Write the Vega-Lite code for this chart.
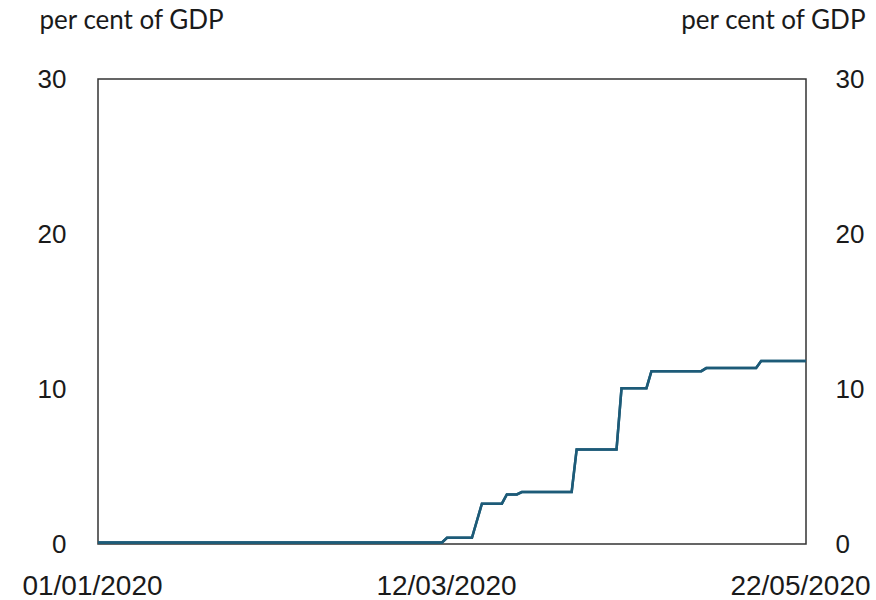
{
  "$schema": "https://vega.github.io/schema/vega-lite/v6.json",
  "width": 708,
  "height": 465,
  "autosize": {"type": "none"},
  "padding": {"left": 98, "top": 79, "right": 70, "bottom": 56},
  "background": "white",
  "config": {
    "view": {"stroke": "#333333", "strokeWidth": 1.5},
    "axis": {"grid": false, "ticks": false, "domain": false, "labelColor": "#1a1a1a", "labelFont": "Liberation Sans"}
  },
  "data": {
    "values": [
      {"date": "2020-01-01", "value": 0.1},
      {"date": "2020-03-10", "value": 0.1},
      {"date": "2020-03-11", "value": 0.4},
      {"date": "2020-03-16", "value": 0.4},
      {"date": "2020-03-17", "value": 1.5},
      {"date": "2020-03-18", "value": 2.6},
      {"date": "2020-03-22", "value": 2.6},
      {"date": "2020-03-23", "value": 3.2},
      {"date": "2020-03-25", "value": 3.2},
      {"date": "2020-03-26", "value": 3.35},
      {"date": "2020-04-05", "value": 3.35},
      {"date": "2020-04-06", "value": 6.1},
      {"date": "2020-04-14", "value": 6.1},
      {"date": "2020-04-15", "value": 10.05},
      {"date": "2020-04-20", "value": 10.05},
      {"date": "2020-04-21", "value": 11.15},
      {"date": "2020-05-01", "value": 11.15},
      {"date": "2020-05-02", "value": 11.35},
      {"date": "2020-05-12", "value": 11.35},
      {"date": "2020-05-13", "value": 11.8},
      {"date": "2020-05-22", "value": 11.8}
    ]
  },
  "encoding": {
    "x": {
      "field": "date",
      "type": "temporal",
      "scale": {
        "type": "utc",
        "domain": [
          {"year": 2020, "month": 1, "date": 1, "utc": true},
          {"year": 2020, "month": 5, "date": 22, "utc": true}
        ],
        "nice": false
      },
      "axis": {
        "title": null,
        "values": [
          {"year": 2020, "month": 1, "date": 1, "utc": true},
          {"year": 2020, "month": 3, "date": 12, "utc": true},
          {"year": 2020, "month": 5, "date": 22, "utc": true}
        ],
        "labelExpr": "utcFormat(datum.value, '%d/%m/%Y')",
        "labelFontSize": 28,
        "labelPadding": 28,
        "labelOffset": -6,
        "labelFlush": false,
        "labelOverlap": false,
        "labelBound": false,
        "encode": {"labels": {"update": {"dx": {"signal": "datum.index > 0.9 ? -5 : 0"}}}}
      }
    }
  },
  "layer": [
    {
      "mark": {"type": "line", "color": "#1d5b78", "strokeWidth": 2.5, "clip": true},
      "encoding": {
        "y": {
          "field": "value",
          "type": "quantitative",
          "scale": {"domain": [0, 30], "nice": false},
          "axis": {
            "orient": "left",
            "values": [0, 10, 20, 30],
            "labelFontSize": 26,
            "labelPadding": 32,
            "title": "per cent of GDP",
            "titleFont": "Lato",
            "titleFontSize": 26,
            "titleFontWeight": "normal",
            "titleColor": "#1a1a1a",
            "titleAngle": 0,
            "titleAlign": "left",
            "titleBaseline": "alphabetic",
            "titleX": -59,
            "titleY": -51
          }
        }
      }
    },
    {
      "mark": {"type": "line", "color": "#1d5b78", "strokeWidth": 2.5, "clip": true},
      "encoding": {
        "y": {
          "field": "value",
          "type": "quantitative",
          "scale": {"domain": [0, 30], "nice": false},
          "axis": {
            "orient": "right",
            "values": [0, 10, 20, 30],
            "labelFontSize": 26,
            "labelPadding": 29,
            "title": "per cent of GDP",
            "titleFont": "Lato",
            "titleFontSize": 26,
            "titleFontWeight": "normal",
            "titleColor": "#1a1a1a",
            "titleAngle": 0,
            "titleAlign": "right",
            "titleBaseline": "alphabetic",
            "titleX": 59,
            "titleY": -51
          }
        }
      }
    }
  ],
  "resolve": {"axis": {"y": "independent"}}
}
